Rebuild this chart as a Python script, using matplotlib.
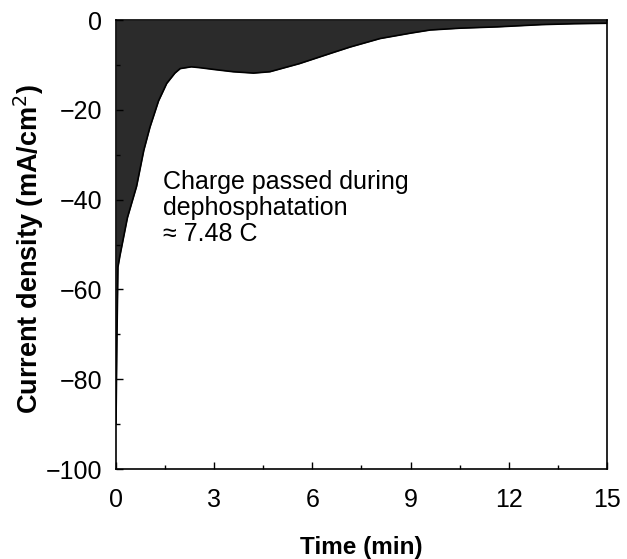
import matplotlib
matplotlib.use("Agg")
import matplotlib.pyplot as plt
from matplotlib.ticker import MultipleLocator

plt.rcParams["font.family"] = ["Liberation Sans", "DejaVu Sans"]

# current density trace
time_min = [0.0, 0.03, 0.06, 0.12, 0.35, 0.63, 0.85, 1.04, 1.3, 1.55, 1.8, 1.96,
            2.3, 2.57, 3.0, 3.58, 4.2, 4.7, 5.1, 5.6, 6.1, 6.6, 7.15, 8.07,
            9.0, 9.6, 10.5, 11.65, 13.0, 14.0, 15.0]
current = [-90.0, -70.0, -55.0, -52.5, -44.0, -37.0, -29.0, -23.8, -18.0, -14.1,
           -11.8, -10.8, -10.4, -10.6, -11.0, -11.5, -11.8, -11.5, -10.7, -9.7,
           -8.5, -7.3, -6.0, -4.1, -2.9, -2.2, -1.8, -1.5, -1.0, -0.8, -0.7]

x_ticks = [0, 3, 6, 9, 12, 15]
y_ticks = [0, -20, -40, -60, -80, -100]
y_tick_labels = ["0", "\u221220", "\u221240", "\u221260", "\u221280", "\u2212100"]


def plot_trace(path="out.png"):
    fig = plt.figure(figsize=(6.27, 5.59), dpi=100)
    ax = fig.add_axes([0.185, 0.161, 0.783, 0.803])

    ax.fill_between(time_min, current, 0, color="#2b2b2b", linewidth=0)
    ax.plot(time_min, current, color="black", linewidth=1.2)

    ax.set_xlim(0, 15)
    ax.set_ylim(-100, 0)
    ax.set_xticks(x_ticks)
    ax.set_yticks(y_ticks)
    ax.set_yticklabels(y_tick_labels)
    ax.xaxis.set_minor_locator(MultipleLocator(1.5))
    ax.yaxis.set_minor_locator(MultipleLocator(10))
    ax.tick_params(which="both", direction="in", labelsize=18, width=1)
    ax.tick_params(which="major", length=5)
    ax.tick_params(which="minor", length=3)
    ax.tick_params(axis="x", pad=14)
    ax.tick_params(axis="y", pad=10)
    for spine in ax.spines.values():
        spine.set_linewidth(1.2)

    ax.set_xlabel("Time (min)", fontsize=17.5, fontweight="bold", labelpad=17)
    ax.set_ylabel("Current density (mA/cm$^2$)", fontsize=19.5, fontweight="bold")
    ax.yaxis.set_label_coords(-0.143, 0.49)

    ax.text(1.44, -33.5, "Charge passed during\ndephosphatation\n\u2248 7.48 C",
            fontsize=18, va="top", ha="left", linespacing=1.08)

    fig.savefig(path, dpi=100)
    plt.close(fig)


if __name__ == "__main__":
    plot_trace()
